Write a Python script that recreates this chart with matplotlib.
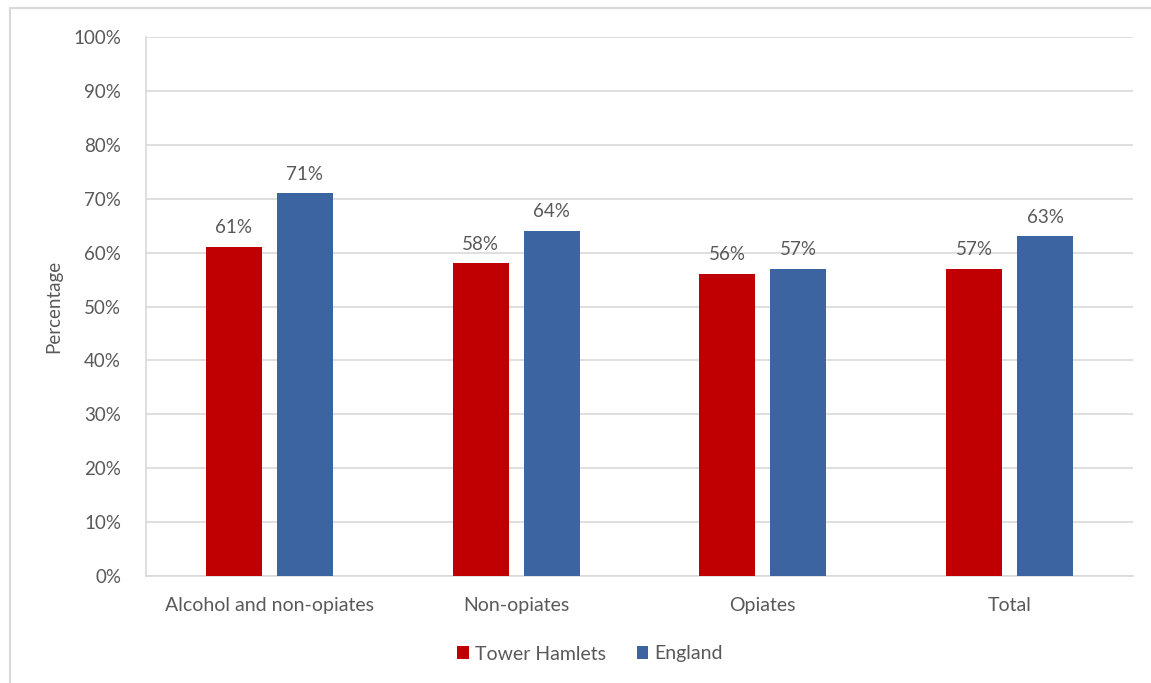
import matplotlib.pyplot as plt
import matplotlib.patches as mpatches
import numpy as np

# DATA
categories = ["Alcohol and non-opiates", "Non-opiates", "Opiates", "Total"]
tower_hamlets = [61, 58, 56, 57]
england = [71, 64, 57, 63]
series_names = ["Tower Hamlets", "England"]

# STYLE
red = "#C00000"
blue = "#3C64A0"
grey_text = "#595959"
grid_col = "#D9D9D9"
plt.rcParams['font.family'] = ['Lato', 'DejaVu Sans']

fig = plt.figure(figsize=(11.51, 6.83), dpi=100)
ax = fig.add_axes([146/1151, 1 - 576/683, (1133-146)/1151, (576-37)/683])

# outer border of the chart area
fig.patches.append(mpatches.Rectangle((10/1151, -0.01), 1.0, 1 - 8/683 + 0.01,
                                      transform=fig.transFigure, fill=False,
                                      edgecolor=grid_col, linewidth=1.5))

x = np.arange(len(categories))
w = 0.227
off = 0.144
b1 = ax.bar(x - off, tower_hamlets, w, color=red, label=series_names[0], zorder=3)
b2 = ax.bar(x + off, england, w, color=blue, label=series_names[1], zorder=3)

for bars, vals in [(b1, tower_hamlets), (b2, england)]:
    for r, v in zip(bars, vals):
        ax.text(r.get_x() + r.get_width()/2, v + 2.0, "%d%%" % v, ha='center',
                va='bottom', fontsize=13.5, color=grey_text)

ax.set_xlim(-0.5, 3.5)
ax.set_ylim(0, 100)
ax.set_yticks(range(0, 101, 10))
ax.set_yticklabels(["%d%%" % t for t in range(0, 101, 10)])
ax.set_xticks(x)
ax.set_xticklabels(categories, fontsize=14)
ax.yaxis.grid(True, color=grid_col, linewidth=1.2, zorder=0)
ax.tick_params(axis='both', length=0, colors=grey_text)
ax.tick_params(axis='y', labelsize=13.5, pad=18)
ax.tick_params(axis='x', pad=15)
for s in ['top', 'right']:
    ax.spines[s].set_visible(False)
ax.spines['left'].set_color(grid_col)
ax.spines['left'].set_linewidth(1.2)
ax.spines['bottom'].set_color(grid_col)
ax.spines['bottom'].set_linewidth(1.2)

ax.set_ylabel("Percentage", fontsize=13.5, color=grey_text, labelpad=8)

ax.legend(loc='center', bbox_to_anchor=(590/1151, 1 - 654/683),
          bbox_transform=fig.transFigure, ncol=2, frameon=False, fontsize=14,
          labelcolor=grey_text, handlelength=0.6, handleheight=0.6,
          handletextpad=0.3, columnspacing=1.6)

fig.savefig("out.png", dpi=100)
